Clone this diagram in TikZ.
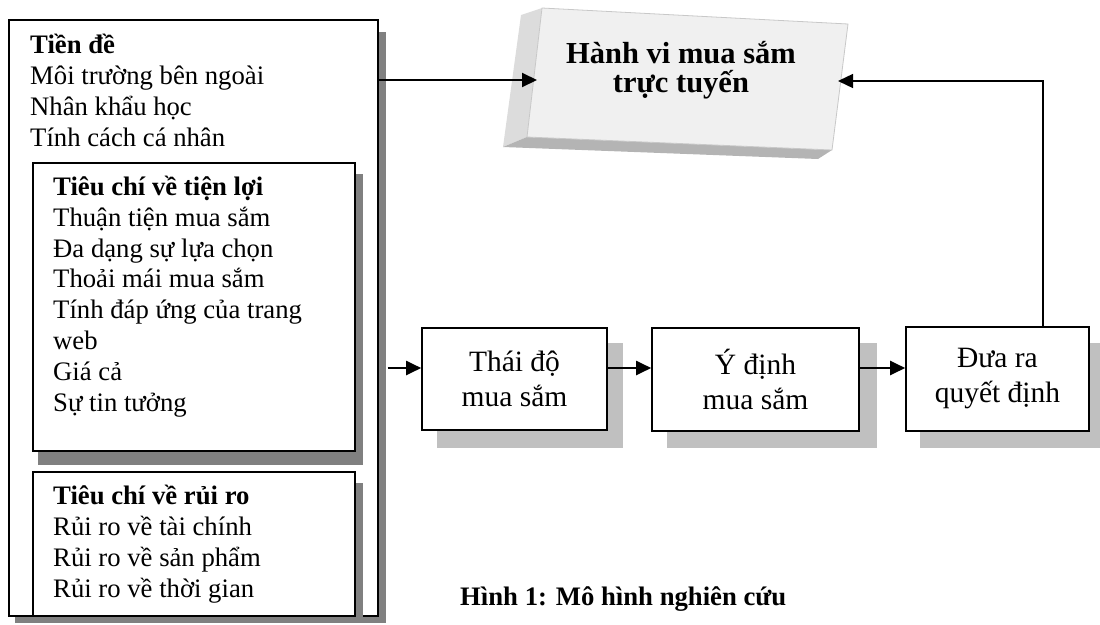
\documentclass[tikz,border=0pt]{standalone}
\usepackage{fontspec}
\setmainfont{Liberation Serif}
\usetikzlibrary{arrows.meta}
\definecolor{darksh}{HTML}{808080}
\definecolor{lightsh}{HTML}{C0C0C0}
\definecolor{face}{HTML}{F0F0F0}
\definecolor{bevl}{HTML}{DCDCDC}
\definecolor{bevb}{HTML}{B4B4B4}
\definecolor{edge}{HTML}{C8C8C8}
\begin{document}
\begin{tikzpicture}[x=1pt,y=-1pt,
  box/.style={draw=black, line width=1.6pt, fill=white, inner sep=0pt, anchor=north west},
  txt/.style={inner sep=0pt, align=left, anchor=base west, font=\fontsize{26.7}{30.8}\selectfont},
  sbox/.style={draw=black, line width=1.6pt, fill=white, align=center, inner sep=0pt, font=\fontsize{29.5}{35}\selectfont},
  arr/.style={line width=2pt, -{Triangle[length=15pt,width=14pt]}}]
\useasboundingbox (0,0) rectangle (1100,624);

% shadows
\fill[darksh] (15,32) rectangle (386,623);
\node[box, minimum width=369pt, minimum height=596pt] (outer) at (8,19) {};
\fill[darksh] (38,174) rectangle (363,465);
\node[box, minimum width=322pt, minimum height=288pt] (in1) at (32,162) {};
\fill[darksh] (38,483) rectangle (363,623);
\node[box, minimum width=322pt, minimum height=144pt] (in2) at (32,471) {};

\node[txt] (t0) at (30,146) {\textbf{Tiền đề}\\Môi trường bên ngoài\\Nhân khẩu học\\Tính cách cá nhân};
\node[txt] (t1) at (53,411) {\textbf{Tiêu chí về tiện lợi}\\Thuận tiện mua sắm\\Đa dạng sự lựa chọn\\Thoải mái mua sắm\\Tính đáp ứng của trang\\web\\Giá cả\\Sự tin tưởng};
\node[txt] (t2) at (53,597) {\textbf{Tiêu chí về rủi ro}\\Rủi ro về tài chính\\Rủi ro về sản phẩm\\Rủi ro về thời gian};

% small boxes
\fill[lightsh] (437,343) rectangle (623,448);
\fill[lightsh] (667,343) rectangle (877,448);
\fill[lightsh] (920,343) rectangle (1106,448);
\node[sbox, minimum width=185pt, minimum height=102pt] (a) at (514.5,379) {Thái độ\\mua sắm};
\node[sbox, minimum width=207pt, minimum height=103pt] (b) at (755.5,379.5) {Ý định\\mua sắm};
\node[sbox, minimum width=183pt, minimum height=104pt] (c) at (997.5,379) {Đưa ra\\quyết định};

% 3D box
\fill[bevl] (521,15) -- (542,8) -- (527,137) -- (503,147) -- cycle;
\fill[bevb] (503,147) -- (527,137) -- (832,150) -- (818,159) -- cycle;
\fill[face] (542,8) -- (848,24) -- (832,150) -- (527,137) -- cycle;
\draw[edge, line width=0.8pt] (542,8) -- (848,24) -- (832,150) -- (527,137) -- cycle;
\node[inner sep=0pt, align=center, anchor=base, font=\fontsize{30.5}{28.5}\selectfont\bfseries] (hv) at (681,92) {Hành vi mua sắm\\trực tuyến};

\coordinate (hvL) at (537,80);
\coordinate (hvR) at (838,81);
\coordinate (la) at ([yshift=11pt]a.west);
\coordinate (oe) at ([xshift=9pt]outer.east);
\coordinate (ct) at ([xshift=45.5pt]c.north);

\draw[arr] (outer.east |- hvL) -- (hvL);
\draw[arr, line width=1.4pt] (ct) |- (hvR);
\draw[arr] (oe |- la) -- (la);
\draw[arr] (a.east |- la) -- (b.west |- la);
\draw[arr] (b.east |- la) -- (c.west |- la);

\node[inner sep=0pt, anchor=base west, font=\fontsize{26.7}{30}\selectfont\bfseries] (cap) at (460,605) {Hình 1: Mô hình nghiên cứu};
\end{tikzpicture}
\end{document}
